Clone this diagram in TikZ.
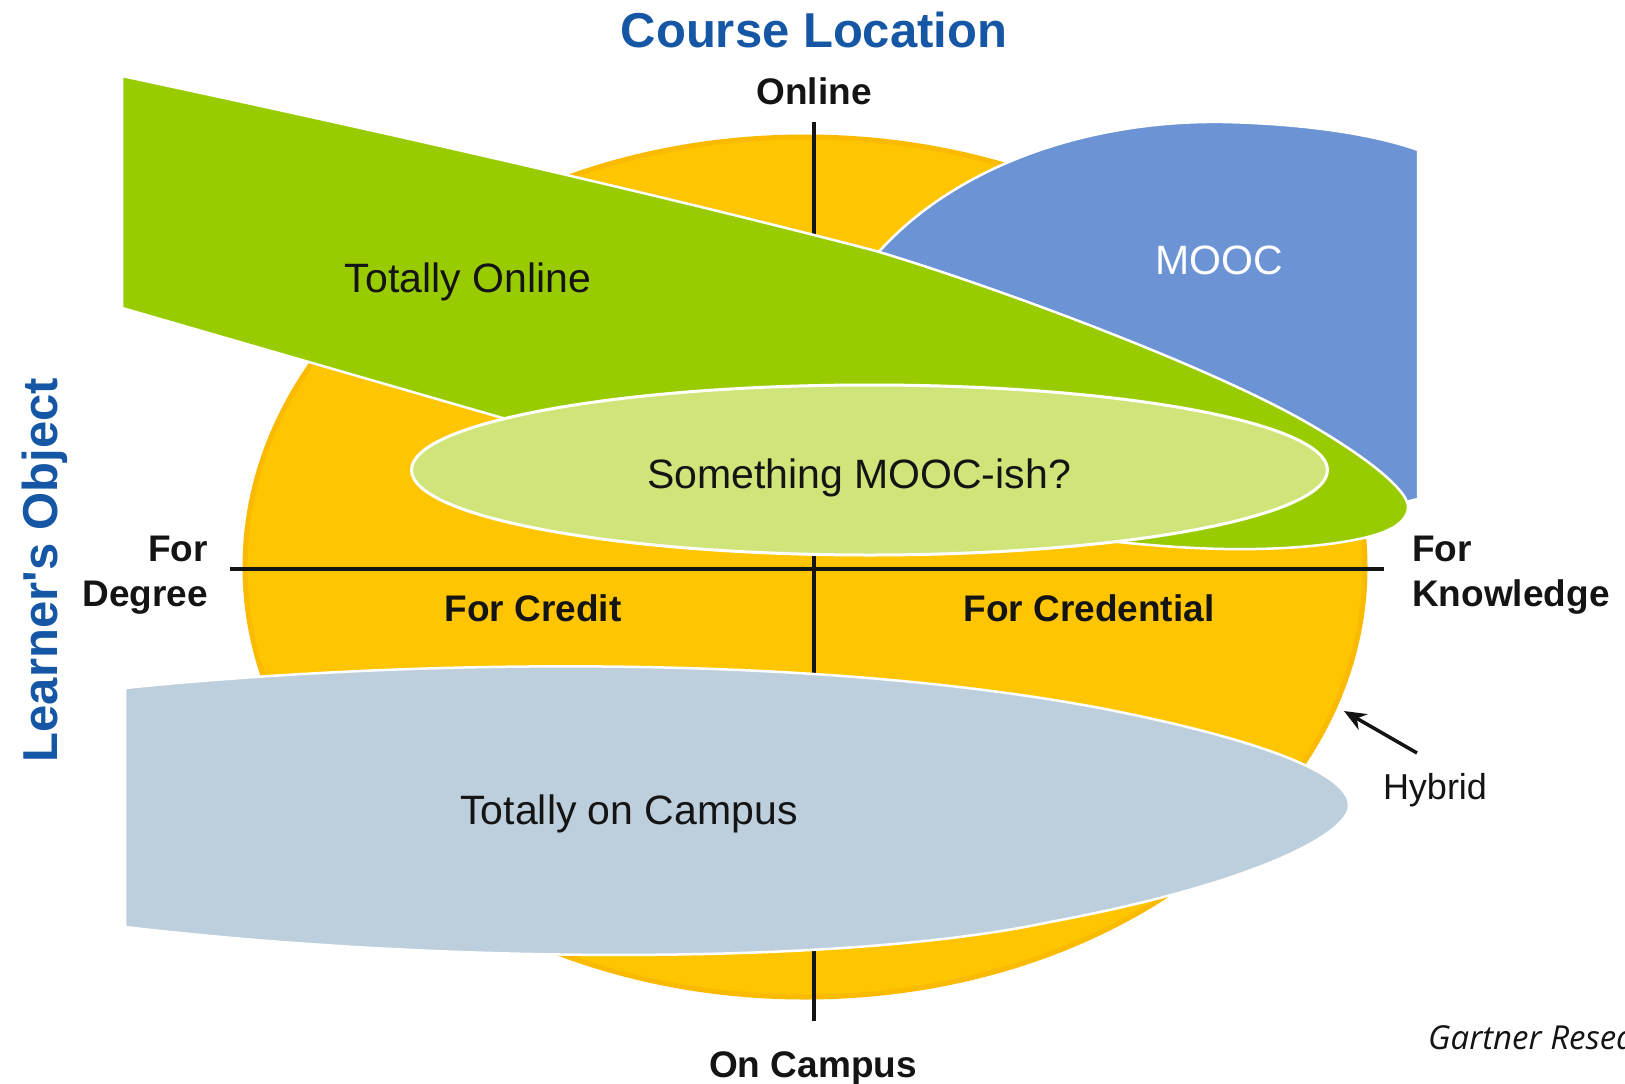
\documentclass[tikz,border=0pt]{standalone}
\usepackage{fontspec}
\setmainfont{Liberation Sans}
\newfontfamily\lsans{Liberation Sans}
\newfontfamily\gartnerfont{Open Sans}
\usetikzlibrary{arrows.meta}
\definecolor{orangeY}{RGB}{255,197,0}
\definecolor{orangeEdge}{RGB}{250,186,0}
\definecolor{greenT}{RGB}{153,204,0}
\definecolor{greenL}{RGB}{207,229,122}
\definecolor{blueM}{RGB}{108,148,213}
\definecolor{campusC}{RGB}{189,207,221}
\definecolor{titleblue}{RGB}{22,87,165}
\definecolor{inkC}{RGB}{20,20,20}
\tikzset{
  shapefill/.style={draw=white, line width=2.5pt},
  axisline/.style={line width=4pt, inkC},
  bigtitle/.style={font=\lsans\fontsize{49}{55}\selectfont\bfseries, text=titleblue, inner sep=0pt, anchor=base},
  axislbl/.style={font=\lsans\fontsize{37}{44}\selectfont\bfseries, text=inkC, inner sep=0pt, anchor=base},
  regionlbl/.style={font=\lsans\fontsize{41}{48}\selectfont, text=inkC, inner sep=0pt, anchor=base},
}
\begin{document}
\begin{tikzpicture}[x=1pt,y=-1pt]
\useasboundingbox (0,0) rectangle (1625,1084);
\clip (0,0) rectangle (1625,1084);
\fill[white] (0,0) rectangle (1625,1084);

% orange disc
\fill[orangeY, draw=orangeEdge, line width=5pt] (805,567) ellipse [x radius=560, y radius=430];

% axes
\coordinate (vtop) at (814,122);
\coordinate (vbot) at (814,1021);
\coordinate (hleft) at (230,569);
\coordinate (hright) at (1384,569);
\draw[axisline] (vtop) -- (vbot);
\draw[axisline] (hleft) -- (hright);

% MOOC (blue)
\fill[blueM, shapefill] (870,262) .. controls (950,165) and (1090,120) .. (1223,122)
  .. controls (1320,124) and (1385,138) .. (1418,150) -- (1418,499) -- (1350,515) -- (1100,470) -- cycle;

% Totally online (green)
\fill[greenT, shapefill] (122,76) .. controls (450,146) and (700,205) .. (876,251)
  .. controls (996,287) and (1197,362) .. (1297,417)
  .. controls (1360,452) and (1410,490) .. (1408,508)
  .. controls (1406,530) and (1370,541) .. (1300,547)
  .. controls (1230,552) and (1170,548) .. (1080,538)
  -- (800,504) -- (122,308) -- cycle;

% Something MOOC-ish ellipse
\fill[greenL, draw=white, line width=3pt] (869.5,470) ellipse [x radius=458, y radius=85];

% Totally on campus
\fill[campusC, shapefill] (125,688) .. controls (400,660) and (800,652) .. (1100,708)
  .. controls (1290,745) and (1350,780) .. (1349,806)
  .. controls (1348,835) and (1250,885) .. (1050,922)
  .. controls (850,965) and (450,965) .. (125,927) -- cycle;

% texts
\node[bigtitle] (title) at (814,47) {Course Location};
\node[bigtitle, rotate=90] (learner) at (57,570) {Learner's Object};
\node[axislbl] (online) at (814,104) {Online};
\node[axislbl] (oncampus) at (813,1077) {On Campus};
\node[axislbl, anchor=base east] (fordeg1) at (208,561) {For};
\node[axislbl, anchor=base east] (fordeg2) at (208,606) {Degree};
\node[axislbl, anchor=base west] (forkn1) at (1412,561) {For};
\node[axislbl, anchor=base west] (forkn2) at (1412,606) {Knowledge};
\node[axislbl] (credit) at (533,621) {For Credit};
\node[axislbl] (credential) at (1089,621) {For Credential};

\node[regionlbl] (tonline) at (468,292) {Totally Online};
\node[regionlbl, text=white] (mooc) at (1219,274) {MOOC};
\node[regionlbl] (mish) at (859,488) {Something MOOC-ish?};
\node[regionlbl] (tcampus) at (629,824) {Totally on Campus};

\node[font=\lsans\fontsize{36}{42}\selectfont, text=inkC, inner sep=0pt, anchor=base] (hybrid) at (1435,799) {Hybrid};
\coordinate (hybtail) at (1417,753);
\coordinate (hybtip) at (1344,711);
\draw[-{Stealth[length=22pt,width=18pt]}, line width=3.5pt, inkC] (hybtail) -- (hybtip);

\node[font=\gartnerfont\itshape\fontsize{33}{40}\selectfont, text=inkC, inner sep=0pt, anchor=base west] (gartner) at (1428,1049) {Gartner Research};
\end{tikzpicture}
\end{document}
